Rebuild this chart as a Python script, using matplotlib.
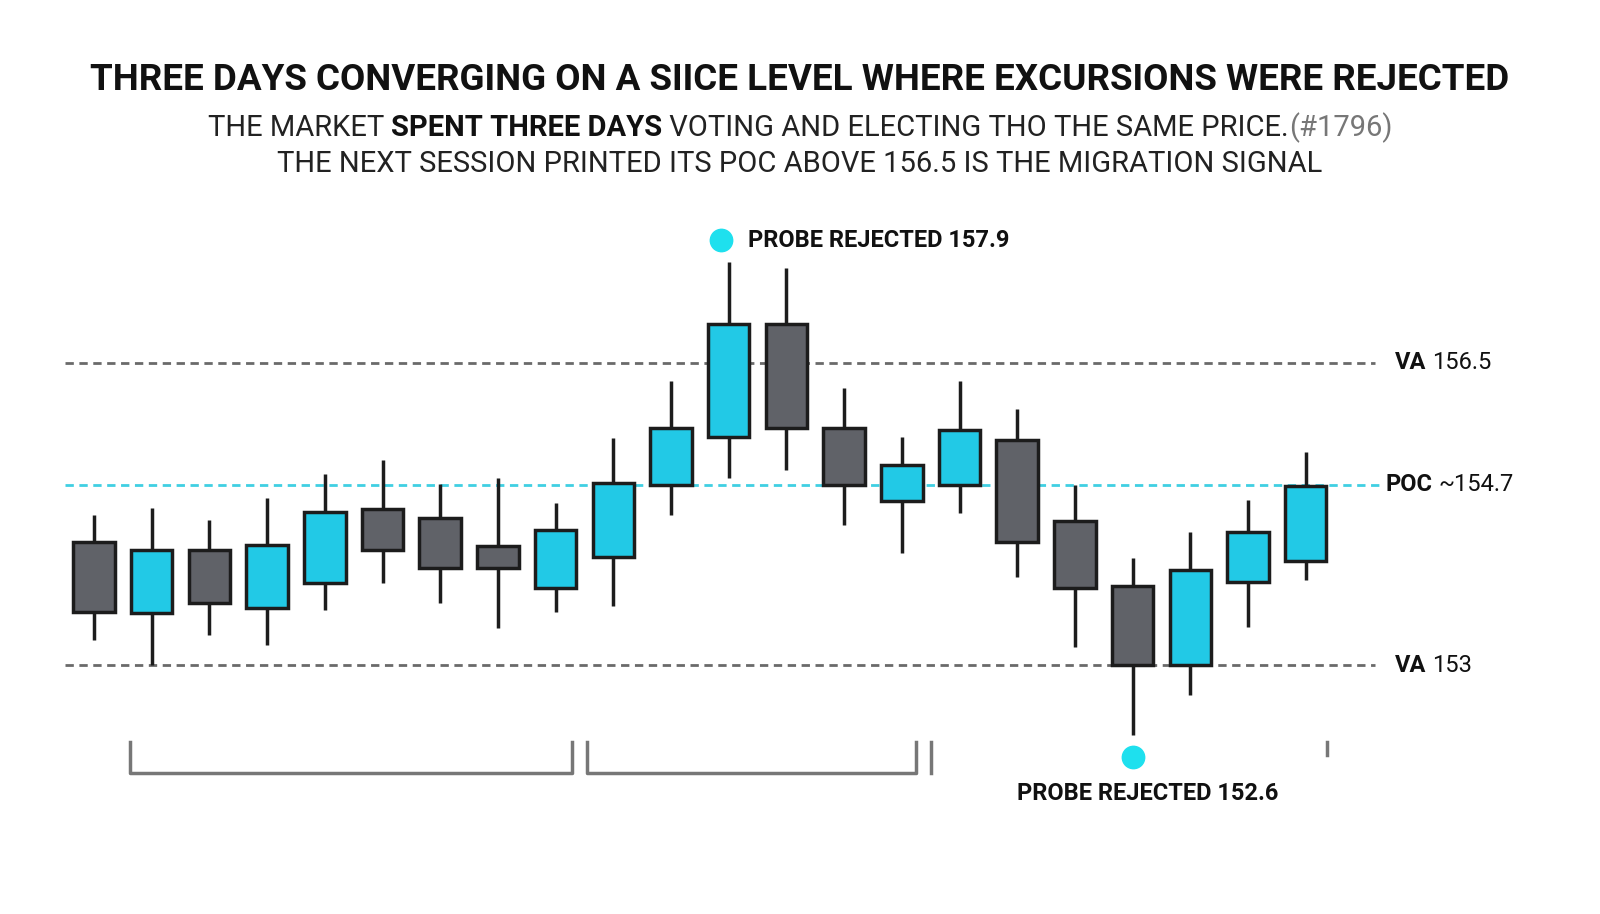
import matplotlib
matplotlib.use('Agg')
import matplotlib.pyplot as plt

plt.rcParams['font.family'] = ['Roboto', 'DejaVu Sans']

# candle data (open, high, low, close)
opens  = [154.43, 153.60, 154.33, 153.66, 153.95, 154.81, 154.70, 154.38, 153.89, 154.25, 155.09,
          155.64, 156.95, 155.75, 154.90, 155.09, 155.61, 154.67, 153.92, 153.00, 153.96, 154.21]
closes = [153.61, 154.33, 153.72, 154.39, 154.77, 154.33, 154.12, 154.12, 154.56, 155.11, 155.75,
          156.95, 155.75, 155.09, 155.32, 155.72, 154.43, 153.89, 153.00, 154.10, 154.54, 155.07]
highs  = [154.74, 154.82, 154.68, 154.94, 155.21, 155.38, 155.10, 155.17, 154.88, 155.63, 156.29,
          157.67, 157.60, 156.21, 155.64, 156.29, 155.97, 155.09, 154.24, 154.54, 154.91, 155.47]
lows   = [153.29, 153.00, 153.35, 153.23, 153.64, 153.95, 153.72, 153.43, 153.61, 153.68, 154.74,
          155.17, 155.26, 154.62, 154.30, 154.76, 154.02, 153.21, 152.19, 152.65, 153.44, 153.98]

va_high, poc, va_low = 156.5, 155.09, 153.0
probe_high, probe_low = 157.92, 151.93

CYAN = '#22c9e6'
GRAY = '#606268'
EDGE = '#1c1c1c'

fig = plt.figure(figsize=(16, 9.14), dpi=100)
ax = fig.add_axes([0, 0, 1, 1])
ax.set_xlim(-1.629, 26.1)
ax.set_ylim(150.115, 160.706)
ax.axis('off')

px = 57.7  # pixels per candle slot
def xi(p):
    return (p - 94) / px

for i, (o, h, l, c) in enumerate(zip(opens, highs, lows, closes)):
    col = CYAN if c > o else GRAY
    ax.plot([i, i], [l, h], color=EDGE, lw=2.5, zorder=2, solid_capstyle='butt')
    ax.bar(i, abs(c - o), bottom=min(o, c), width=0.72, color=col,
           edgecolor=EDGE, linewidth=2.5, zorder=3)

x0, x1 = xi(65), xi(1375)
ax.plot([x0, x1], [va_high] * 2, ls=(0, (3, 2)), color='#6a6a6a', lw=2, zorder=1)
ax.plot([x0, x1], [va_low] * 2, ls=(0, (3, 2)), color='#6a6a6a', lw=2, zorder=1)
ax.plot([x0, xi(1380)], [poc] * 2, ls=(0, (3, 2)), color='#40cfe2', lw=2, zorder=1)

def label(x, y, bold, rest, size=17):
    t = ax.text(x, y, bold, fontsize=size, fontweight='bold', va='center', ha='left', color='#111')
    fig.canvas.draw()
    bb = t.get_window_extent()
    ax.annotate(rest, xy=(bb.x1, (bb.y0 + bb.y1) / 2), xycoords='figure pixels', xytext=(6, 0),
                textcoords='offset pixels', fontsize=size, va='center', ha='left', color='#111',
                annotation_clip=False)

label(xi(1395), va_high, 'VA', '156.5')
label(xi(1385), poc, 'POC', '~154.7')
label(xi(1395), va_low, 'VA', '153')

ax.scatter([xi(721)], [probe_high], s=260, color='#1ee0ee', zorder=4)
ax.text(xi(748), probe_high, 'PROBE REJECTED 157.9', fontsize=17, fontweight='bold',
        va='center', ha='left', color='#111')
ax.scatter([xi(1133)], [probe_low], s=260, color='#1ee0ee', zorder=4)
ax.text(xi(1148), probe_low - 0.42, 'PROBE REJECTED 152.6', fontsize=17, fontweight='bold',
        va='center', ha='center', color='#111')

# session brackets
yb, yt = 151.75, 152.11
for a, b in [(130, 572), (587, 916)]:
    ax.plot([xi(a), xi(a), xi(b), xi(b)], [yt, yb, yb, yt], color='#777', lw=2.5)
ax.plot([xi(931)] * 2, [yb, yt], color='#777', lw=2.5)
ax.plot([xi(1327)] * 2, [151.96, yt], color='#777', lw=2.5)

# title and subtitle
fig.text(0.5, 1 - 80 / 914, 'THREE DAYS CONVERGING ON A SIICE LEVEL WHERE EXCURSIONS WERE REJECTED',
         ha='center', va='center', fontsize=26.5, fontweight='bold', color='#111')

def rich_line(y, parts, size=21):
    fig.canvas.draw()
    r = fig.canvas.get_renderer()
    texts = []
    for s, w, c in parts:
        texts.append(fig.text(0, y, s, fontsize=size, fontweight=w, color=c, va='center', ha='left'))
    widths = [t.get_window_extent(r).width for t in texts]
    x = (1600 - sum(widths)) / 2
    for t, w in zip(texts, widths):
        t.set_x(x / 1600)
        x += w

rich_line(1 - 128 / 914, [('THE MARKET ', 'normal', '#222'), ('SPENT THREE DAYS', 'bold', '#111'),
                          (' VOTING AND ELECTING THO THE SAME PRICE.', 'normal', '#222'),
                          ('(#1796)', 'normal', '#777')])
rich_line(1 - 164 / 914, [('THE NEXT SESSION PRINTED ITS POC ABOVE 156.5 IS THE MIGRATION SIGNAL', 'normal', '#222')])

fig.savefig('out.png', dpi=100, facecolor='white')
